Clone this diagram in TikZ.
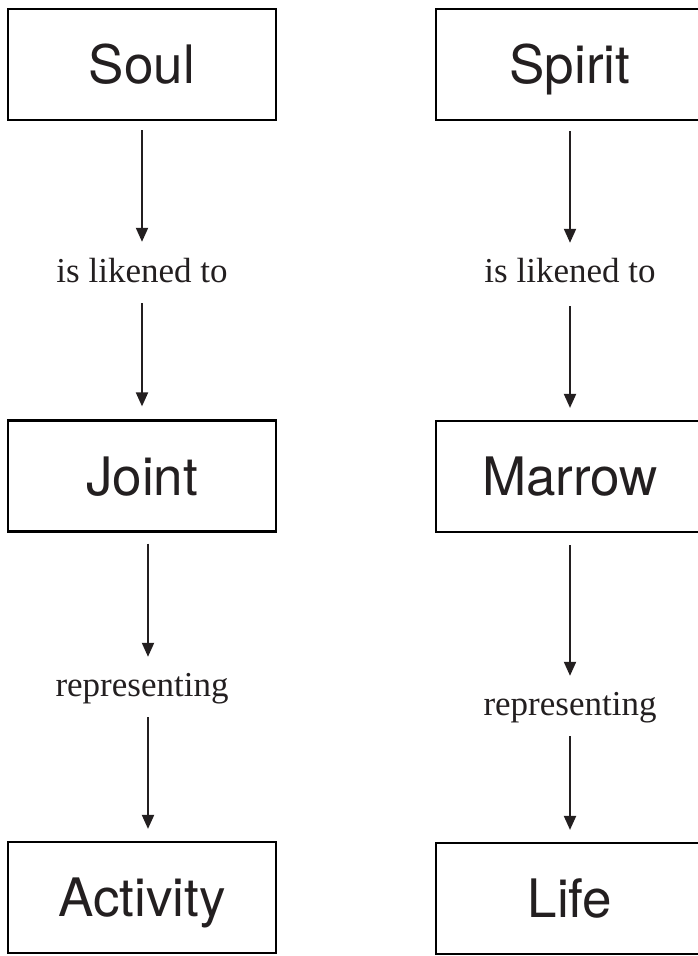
\documentclass[tikz,border=0pt]{standalone}
\usepackage{fontspec}
\newfontfamily\boxfont{TeX Gyre Heros}
\newfontfamily\labelfont{Liberation Serif}
\usetikzlibrary{arrows.meta}
\definecolor{inkgray}{HTML}{231F20}
\tikzset{
  concept/.style={draw=black, line width=2.2pt, minimum width=268pt,
    minimum height=111pt, inner sep=0pt, text height=38pt, text depth=0pt,
    text=inkgray, font=\boxfont\fontsize{53}{60}\selectfont},
  relation/.style={inner sep=0pt, text height=24pt, text depth=8pt,
    text=inkgray, font=\labelfont\fontsize{35}{40}\selectfont},
  link/.style={line width=2pt, draw=inkgray,
    -{Triangle[width=12pt,length=14pt]}},
}
\begin{document}
\begin{tikzpicture}[x=1pt,y=-1pt]
  \useasboundingbox (0,0) rectangle (698,956);
  % left column
  \node [concept] (soul) at (142,64.5) {Soul};
  \node [relation,anchor=base] (liken left) at (142,282) {is likened to};
  \node [concept] (joint) at (142,476) {Joint};
  \node [relation,anchor=base] (rep left) at (142,696) {representing};
  \node [concept] (activity) at (142,897.5) {Activity};
  % right column
  \node [concept] (spirit) at (570,64.5) {Spirit};
  \node [relation,anchor=base] (liken right) at (570,282) {is likened to};
  \node [concept] (marrow) at (570,476.5) {Marrow};
  \node [relation,anchor=base] (rep right) at (570,715) {representing};
  \node [concept] (life) at (570,898.5) {Life};
  % arrows
  \draw [link,shorten <=9pt,shorten >=16pt] (soul) -- (liken left);
  \draw [link,shorten <=13pt,shorten >=13pt] (liken left) -- (joint);
  \draw [link,shorten <=11pt,shorten >=15pt]
    ([xshift=6pt]joint.south) -- ([xshift=6pt]rep left.north);
  \draw [link,shorten <=13pt,shorten >=12pt]
    ([xshift=6pt]rep left.south) -- ([xshift=6pt]activity.north);
  \draw [link,shorten <=10pt,shorten >=15pt] (spirit) -- (liken right);
  \draw [link,shorten <=16pt,shorten >=12pt] (liken right) -- (marrow);
  \draw [link,shorten <=12pt,shorten >=15pt] (marrow) -- (rep right);
  \draw [link,shorten <=13pt,shorten >=12pt] (rep right) -- (life);
\end{tikzpicture}
\end{document}
